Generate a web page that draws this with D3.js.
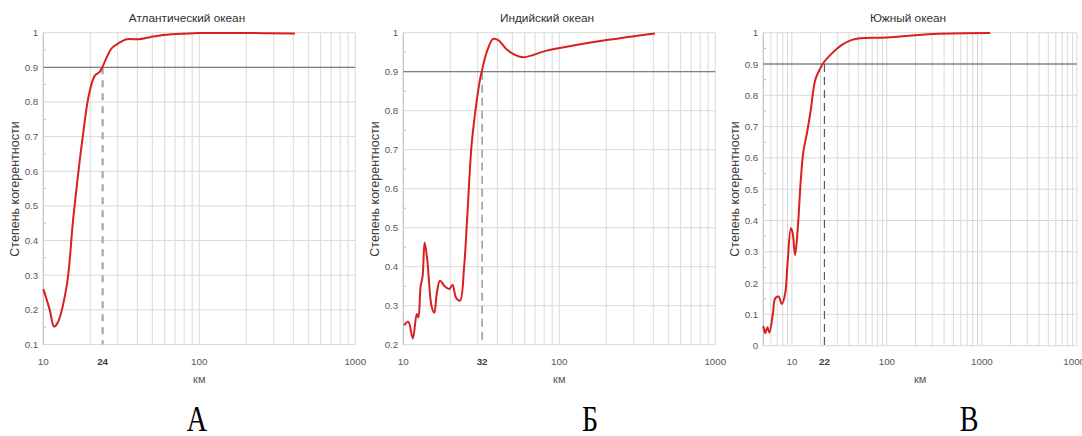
<!DOCTYPE html>
<html><head><meta charset="utf-8">
<script src="https://cdn.jsdelivr.net/npm/d3@7"></script>
<style>
html,body{margin:0;padding:0;background:#fff;}
svg{display:block;}
</style></head>
<body>
<svg id="chart" width="1082" height="436"></svg>
<script>
// ---------- DATA ----------
const panelTitles = ["Атлантический океан", "Индийский океан", "Южный океан"];
const panelLetters = ["А", "Б", "В"];
const yAxisTitle = "Степень когерентности";
const xAxisTitle = "км";

// Atlantic
const atlKm  = [10, 11.0, 11.7, 12.3, 14.1, 15.6, 17.9, 19.7, 21.4, 23.0, 24.0, 27.4, 31.0, 34.2, 40.6, 48.3, 56, 71.6, 101, 200, 410];
const atlCoh = [0.26, 0.20, 0.152, 0.161, 0.267, 0.469, 0.70, 0.825, 0.876, 0.887, 0.902, 0.955, 0.972, 0.981, 0.981, 0.987, 0.992, 0.996, 0.999, 0.999, 0.998];
const atlThreshKm = 24;

// Indian
const indKm  = [10.1, 10.77, 11.5, 12.2, 12.5, 12.9, 13.3, 13.7, 14.25, 15.2, 15.8, 16.4, 17.2, 18.5, 19.7, 20.7, 21.8, 23.1, 24.5, 25.7, 27.4, 29.2, 31.0, 31.8, 34.5, 37.7, 40.6, 46.0, 52.0, 58.8, 83, 123, 201, 410];
const indCoh = [0.250, 0.259, 0.216, 0.279, 0.270, 0.349, 0.376, 0.462, 0.417, 0.297, 0.282, 0.332, 0.364, 0.349, 0.343, 0.353, 0.320, 0.313, 0.396, 0.528, 0.712, 0.810, 0.879, 0.900, 0.954, 0.984, 0.981, 0.957, 0.943, 0.937, 0.954, 0.967, 0.981, 0.998];
const indThreshKm = 32;

// Southern
const souKm  = [5.0, 5.24, 5.53, 5.8, 6.31, 6.67, 7.23, 7.85, 8.5, 9.0, 9.76, 10.2, 10.8, 11.5, 12.4, 13.2, 14.4, 15.8, 17.6, 19.5, 21.5, 26.4, 33.6, 42.8, 52.4, 100, 309, 1222];
const souCoh = [0.063, 0.040, 0.059, 0.042, 0.103, 0.151, 0.157, 0.133, 0.167, 0.263, 0.375, 0.359, 0.290, 0.370, 0.529, 0.620, 0.679, 0.753, 0.849, 0.881, 0.904, 0.934, 0.961, 0.977, 0.982, 0.985, 0.996, 0.999];
const souThreshKm = 22;

const thresholdCoh = 0.9;

// tick labels
const xTicksA = [10, 100, 1000];
const xTicksB = [10, 100, 1000];
const xTicksC = [10, 100, 1000, 10000];
const yTicksA = [0.1, 0.2, 0.3, 0.4, 0.5, 0.6, 0.7, 0.8, 0.9, 1];
const yTicksB = [0.2, 0.3, 0.4, 0.5, 0.6, 0.7, 0.8, 0.9, 1];
const yTicksC = [0, 0.1, 0.2, 0.3, 0.4, 0.5, 0.6, 0.7, 0.8, 0.9, 1];

// ---------- LAYOUT ----------
const panels = [
  {km: atlKm, coh: atlCoh, th: atlThreshKm, xd: [10, 1000], xr: [43.3, 355.3], yd: [0.1, 1], yr: [344.5, 32.7],
   xt: xTicksA, yt: yTicksA, title: panelTitles[0], titleX: 187, letter: panelLetters[0], letterX: 197, yLabX: 16,
   dash: {color: "#a6a6a6", width: 2.2, arr: "7,6"}, thColor: "#7f7f7f"},
  {km: indKm, coh: indCoh, th: indThreshKm, xd: [10, 1000], xr: [403.3, 715.3], yd: [0.2, 1], yr: [344.7, 32.7],
   xt: xTicksB, yt: yTicksB, title: panelTitles[1], titleX: 547, letter: panelLetters[1], letterX: 590, yLabX: 376,
   dash: {color: "#7f7f7f", width: 1.2, arr: "8,5"}, thColor: "#7f7f7f"},
  {km: souKm, coh: souCoh, th: souThreshKm, xd: [5, 10000], xr: [763.3, 1076.9], yd: [0, 1], yr: [345.7, 32.7],
   xt: xTicksC, yt: yTicksC, title: panelTitles[2], titleX: 908, letter: panelLetters[2], letterX: 969, yLabX: 736,
   dash: {color: "#595959", width: 1.2, arr: "8,5"}, thColor: "#595959"}
];

const svg = d3.select("#chart");
const font = "'Liberation Sans', Arial, sans-serif";

panels.forEach(p => {
  const x = d3.scaleLog().domain(p.xd).range(p.xr);
  const y = d3.scaleLinear().domain(p.yd).range(p.yr);
  const g = svg.append("g");

  // vertical grid (log minor + major)
  const decades = [];
  const lo = Math.floor(Math.log10(p.xd[0])), hi = Math.ceil(Math.log10(p.xd[1]));
  for (let e = lo; e <= hi; e++) for (let m = 1; m <= 9; m++) {
    const v = m * Math.pow(10, e);
    if (v >= p.xd[0] - 1e-9 && v <= p.xd[1] + 1e-9) decades.push(v);
  }
  g.append("g").selectAll("line").data(decades).join("line")
    .attr("x1", d => x(d)).attr("x2", d => x(d))
    .attr("y1", p.yr[1]).attr("y2", p.yr[0])
    .attr("stroke", "#d9d9d9").attr("stroke-width", 1);

  // horizontal grid
  g.append("g").selectAll("line").data(p.yt).join("line")
    .attr("x1", p.xr[0]).attr("x2", p.xr[1])
    .attr("y1", d => y(d)).attr("y2", d => y(d))
    .attr("stroke", "#d9d9d9").attr("stroke-width", 1);

  // left axis line
  g.append("line").attr("x1", p.xr[0]).attr("x2", p.xr[0]).attr("y1", p.yr[1]).attr("y2", p.yr[0])
    .attr("stroke", "#bfbfbf").attr("stroke-width", 1);

  // minor y ticks
  const minor = d3.range(p.yd[0] + 0.05, p.yd[1], 0.1);
  g.append("g").selectAll("line").data(minor).join("line")
    .attr("x1", p.xr[0]).attr("x2", p.xr[0] + 3)
    .attr("y1", d => y(d)).attr("y2", d => y(d))
    .attr("stroke", "#bfbfbf").attr("stroke-width", 1);

  // threshold horizontal line
  g.append("line").attr("x1", p.xr[0]).attr("x2", p.xr[1])
    .attr("y1", y(thresholdCoh)).attr("y2", y(thresholdCoh))
    .attr("stroke", p.thColor).attr("stroke-width", 1.2);

  // dashed vertical threshold
  g.append("line").attr("x1", x(p.th)).attr("x2", x(p.th))
    .attr("y1", y(thresholdCoh)).attr("y2", p.yr[0])
    .attr("stroke", p.dash.color).attr("stroke-width", p.dash.width)
    .attr("stroke-dasharray", p.dash.arr);

  // curve
  const pts = p.km.map((k, i) => [k, p.coh[i]]);
  const line = d3.line().x(d => x(d[0])).y(d => y(d[1])).curve(d3.curveCatmullRom.alpha(0.5));
  g.append("path").datum(pts).attr("d", line)
    .attr("fill", "none").attr("stroke", "#d91f1f").attr("stroke-width", 2);

  // y tick labels
  g.append("g").selectAll("text").data(p.yt).join("text")
    .attr("x", p.xr[0] - 5).attr("y", d => y(d) + 3.5)
    .attr("text-anchor", "end").attr("font-family", font).attr("font-size", 9.8)
    .attr("fill", "#595959").text(d => d3.format("~g")(d));

  // x tick labels
  g.append("g").selectAll("text").data(p.xt).join("text")
    .attr("x", d => x(d)).attr("y", 365)
    .attr("text-anchor", "middle").attr("font-family", font).attr("font-size", 9.8)
    .attr("fill", "#595959").text(d => d);
  g.append("text").attr("x", x(p.th)).attr("y", 365)
    .attr("text-anchor", "middle").attr("font-family", font).attr("font-size", 9.8)
    .attr("font-weight", "bold").attr("fill", "#404040").text(p.th);

  // x axis title
  g.append("text").attr("x", (p.xr[0] + p.xr[1]) / 2).attr("y", 383)
    .attr("text-anchor", "middle").attr("font-family", font).attr("font-size", 11)
    .attr("fill", "#595959").text(xAxisTitle);

  // y axis title
  g.append("text").attr("transform", `translate(${p.yLabX},189) rotate(-90)`)
    .attr("text-anchor", "middle").attr("dominant-baseline", "middle")
    .attr("font-family", font).attr("font-size", 12.5)
    .attr("fill", "#404040").text(yAxisTitle);

  // title
  g.append("text").attr("x", p.titleX).attr("y", 22)
    .attr("text-anchor", "middle").attr("font-family", font).attr("font-size", 11.8)
    .attr("fill", "#303030").text(p.title);

  // letter
  g.append("text").attr("transform", `translate(${p.letterX},431) scale(0.78,1)`)
    .attr("text-anchor", "middle").attr("font-family", "'Liberation Serif', 'Times New Roman', serif")
    .attr("font-size", 36).attr("fill", "#000").text(p.letter);
});
</script>
</body></html>
